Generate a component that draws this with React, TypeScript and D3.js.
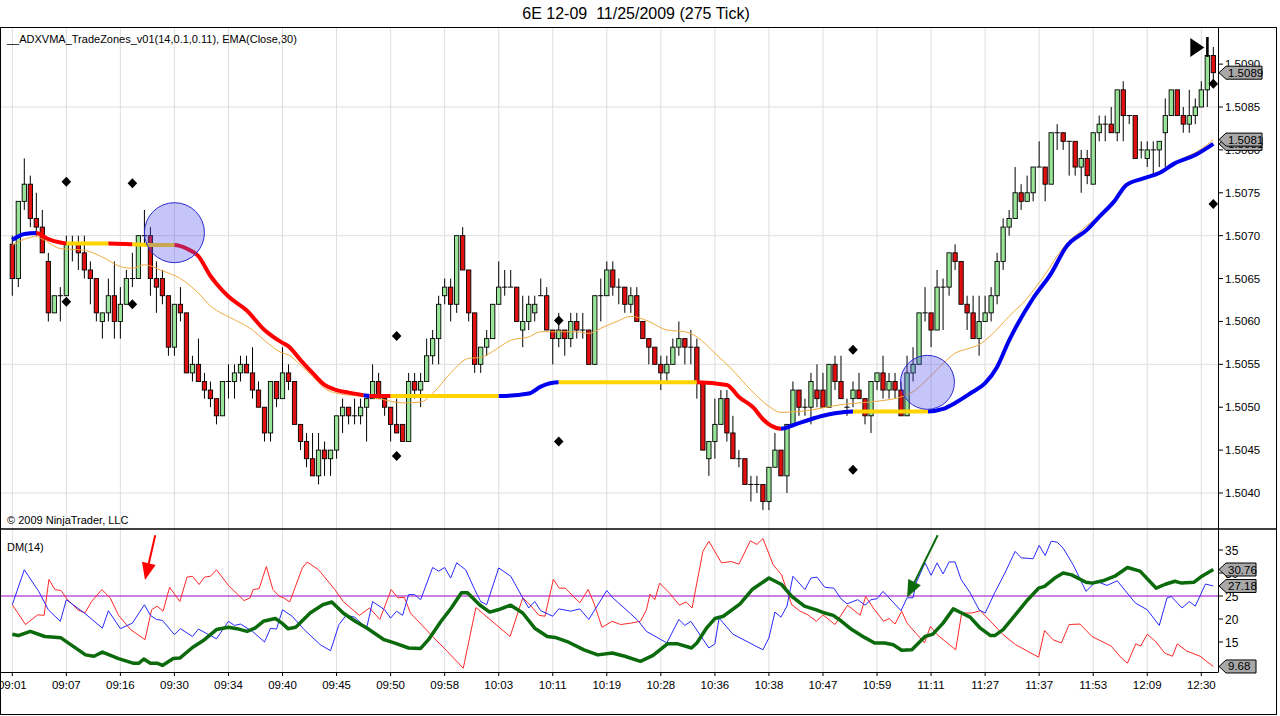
import * as d3 from 'd3';

const TITLE = '6E 12-09  11/25/2009 (275 Tick)';
const INDICATOR_TEXT = '__ADXVMA_TradeZones_v01(14,0.1,0.11), EMA(Close,30)';
const COPYRIGHT = '\u00a9 2009 NinjaTrader, LLC';
const DM_TITLE = 'DM(14)';

// time labels sit on every 9th bar
const TIME_LABELS = ['09:01', '09:07', '09:16', '09:30', '09:34', '09:40', '09:45', '09:50', '09:58', '10:03', '10:11', '10:19',
  '10:28', '10:36', '10:38', '10:47', '10:59', '11:11', '11:27', '11:37', '11:53', '12:09', '12:30'];
const LABEL_STEP = 9;

const PRICE_TICKS = [1.5040, 1.5045, 1.5050, 1.5055, 1.5060, 1.5065, 1.5070, 1.5075, 1.5080, 1.5085, 1.5090];
const PRICE_GRID = [1.5040, 1.5055, 1.5070, 1.5085];
const DM_TICKS = [15, 20, 25, 30, 35];
const DM_LEVEL = 25;

const OPEN = [
  1.5069, 1.5065, 1.5074, 1.5076, 1.5072, 1.5071, 1.5067, 1.5061, 1.5063, 1.5063,
  1.5069, 1.5069, 1.5068, 1.5066, 1.5065, 1.5060, 1.5061, 1.5063, 1.5060, 1.5062,
  1.5065, 1.5065, 1.5070, 1.5070, 1.5065, 1.5065, 1.5063, 1.5057, 1.5062, 1.5061,
  1.5054, 1.5055, 1.5053, 1.5052, 1.5051, 1.5049, 1.5053, 1.5053, 1.5054, 1.5055,
  1.5054, 1.5052, 1.5050, 1.5047, 1.5053, 1.5051, 1.5054, 1.5053, 1.5048, 1.5046,
  1.5044, 1.5042, 1.5045, 1.5044, 1.5045, 1.5049, 1.5050, 1.5049, 1.5049, 1.5050,
  1.5051, 1.5053, 1.5051, 1.5050, 1.5048, 1.5048, 1.5046, 1.5053, 1.5052, 1.5053,
  1.5056, 1.5058, 1.5063, 1.5064, 1.5062, 1.5070, 1.5066, 1.5061, 1.5055, 1.5057,
  1.5058, 1.5062, 1.5064, 1.5064, 1.5064, 1.5059, 1.5060, 1.5061, 1.5063, 1.5063,
  1.5059, 1.5058, 1.5059, 1.5058, 1.5060, 1.5059, 1.5059, 1.5055, 1.5063, 1.5063,
  1.5066, 1.5064, 1.5064, 1.5062, 1.5063, 1.5060, 1.5058, 1.5057, 1.5055, 1.5054,
  1.5055, 1.5057, 1.5058, 1.5057, 1.5057, 1.5053, 1.5044, 1.5046, 1.5048, 1.5051,
  1.5047, 1.5044, 1.5044, 1.5041, 1.5041, 1.5041, 1.5039, 1.5043, 1.5045, 1.5042,
  1.5048, 1.5052, 1.5050, 1.5050, 1.5052, 1.5052, 1.5050, 1.5055, 1.5053, 1.5050,
  1.5051, 1.5052, 1.5051, 1.5049, 1.5053, 1.5054, 1.5052, 1.5053, 1.5052, 1.5049,
  1.5054, 1.5055, 1.5061, 1.5061, 1.5059, 1.5064, 1.5064, 1.5068, 1.5067, 1.5062,
  1.5061, 1.5058, 1.5060, 1.5061, 1.5063, 1.5067, 1.5071, 1.5072, 1.5075, 1.5074,
  1.5075, 1.5078, 1.5078, 1.5076, 1.5082, 1.5082, 1.5081, 1.5081, 1.5078, 1.5079,
  1.5076, 1.5082, 1.5083, 1.5083, 1.5082, 1.5087, 1.5084, 1.5084, 1.5080, 1.5079,
  1.5080, 1.5080, 1.5082, 1.5084, 1.5087, 1.5084, 1.5083, 1.5084, 1.5085, 1.5087,
  1.5091,
];
const HIGH = [
  1.5070, 1.5074, 1.5079, 1.5077, 1.5075, 1.5073, 1.5068, 1.5063, 1.5064, 1.5070,
  1.5070, 1.5070, 1.5070, 1.5067, 1.5065, 1.5061, 1.5065, 1.5067, 1.5064, 1.5066,
  1.5068, 1.5070, 1.5073, 1.5071, 1.5067, 1.5066, 1.5063, 1.5062, 1.5064, 1.5061,
  1.5056, 1.5058, 1.5054, 1.5053, 1.5051, 1.5053, 1.5055, 1.5055, 1.5056, 1.5056,
  1.5057, 1.5053, 1.5050, 1.5053, 1.5053, 1.5057, 1.5055, 1.5053, 1.5048, 1.5047,
  1.5047, 1.5047, 1.5046, 1.5045, 1.5049, 1.5051, 1.5050, 1.5051, 1.5051, 1.5051,
  1.5055, 1.5054, 1.5051, 1.5050, 1.5051, 1.5048, 1.5054, 1.5054, 1.5054, 1.5058,
  1.5059, 1.5063, 1.5065, 1.5065, 1.5070, 1.5071, 1.5066, 1.5061, 1.5057, 1.5059,
  1.5062, 1.5067, 1.5066, 1.5066, 1.5064, 1.5063, 1.5063, 1.5063, 1.5065, 1.5064,
  1.5059, 1.5061, 1.5059, 1.5061, 1.5061, 1.5061, 1.5059, 1.5063, 1.5065, 1.5067,
  1.5067, 1.5065, 1.5064, 1.5064, 1.5064, 1.5060, 1.5058, 1.5057, 1.5056, 1.5056,
  1.5058, 1.5060, 1.5058, 1.5059, 1.5058, 1.5053, 1.5046, 1.5051, 1.5052, 1.5052,
  1.5049, 1.5045, 1.5044, 1.5042, 1.5042, 1.5041, 1.5043, 1.5047, 1.5045, 1.5048,
  1.5053, 1.5052, 1.5051, 1.5054, 1.5055, 1.5054, 1.5055, 1.5056, 1.5056, 1.5051,
  1.5053, 1.5054, 1.5051, 1.5053, 1.5054, 1.5056, 1.5054, 1.5054, 1.5053, 1.5056,
  1.5057, 1.5061, 1.5064, 1.5061, 1.5066, 1.5065, 1.5068, 1.5069, 1.5067, 1.5063,
  1.5063, 1.5063, 1.5063, 1.5064, 1.5068, 1.5072, 1.5073, 1.5078, 1.5076, 1.5077,
  1.5078, 1.5081, 1.5078, 1.5082, 1.5083, 1.5082, 1.5081, 1.5081, 1.5080, 1.5080,
  1.5082, 1.5084, 1.5084, 1.5085, 1.5087, 1.5088, 1.5084, 1.5084, 1.5081, 1.5081,
  1.5081, 1.5081, 1.5086, 1.5087, 1.5087, 1.5085, 1.5087, 1.5086, 1.5088, 1.5091,
  1.5092,
];
const LOW = [
  1.5063, 1.5064, 1.5073, 1.5071, 1.5070, 1.5068, 1.5060, 1.5061, 1.5060, 1.5063,
  1.5067, 1.5066, 1.5065, 1.5062, 1.5060, 1.5058, 1.5060, 1.5058, 1.5058, 1.5062,
  1.5064, 1.5065, 1.5069, 1.5063, 1.5061, 1.5062, 1.5056, 1.5056, 1.5060, 1.5054,
  1.5053, 1.5053, 1.5051, 1.5050, 1.5048, 1.5049, 1.5051, 1.5051, 1.5053, 1.5054,
  1.5051, 1.5050, 1.5046, 1.5046, 1.5050, 1.5051, 1.5052, 1.5048, 1.5045, 1.5043,
  1.5042, 1.5041, 1.5042, 1.5042, 1.5044, 1.5047, 1.5048, 1.5048, 1.5048, 1.5046,
  1.5051, 1.5051, 1.5049, 1.5046, 1.5047, 1.5046, 1.5046, 1.5051, 1.5050, 1.5053,
  1.5055, 1.5055, 1.5062, 1.5060, 1.5061, 1.5066, 1.5060, 1.5054, 1.5054, 1.5056,
  1.5058, 1.5062, 1.5063, 1.5064, 1.5060, 1.5057, 1.5059, 1.5060, 1.5063, 1.5059,
  1.5055, 1.5057, 1.5056, 1.5057, 1.5058, 1.5058, 1.5055, 1.5055, 1.5060, 1.5063,
  1.5063, 1.5062, 1.5061, 1.5061, 1.5060, 1.5058, 1.5055, 1.5055, 1.5052, 1.5053,
  1.5055, 1.5056, 1.5055, 1.5055, 1.5051, 1.5045, 1.5042, 1.5044, 1.5048, 1.5046,
  1.5044, 1.5043, 1.5041, 1.5039, 1.5040, 1.5038, 1.5038, 1.5043, 1.5042, 1.5040,
  1.5048, 1.5049, 1.5049, 1.5048, 1.5050, 1.5050, 1.5050, 1.5052, 1.5051, 1.5049,
  1.5050, 1.5051, 1.5048, 1.5047, 1.5052, 1.5051, 1.5051, 1.5051, 1.5049, 1.5049,
  1.5053, 1.5055, 1.5060, 1.5057, 1.5059, 1.5059, 1.5063, 1.5066, 1.5062, 1.5059,
  1.5058, 1.5056, 1.5060, 1.5060, 1.5062, 1.5066, 1.5070, 1.5072, 1.5073, 1.5074,
  1.5074, 1.5078, 1.5074, 1.5076, 1.5080, 1.5080, 1.5077, 1.5077, 1.5075, 1.5076,
  1.5076, 1.5081, 1.5081, 1.5082, 1.5081, 1.5081, 1.5083, 1.5079, 1.5079, 1.5078,
  1.5077, 1.5078, 1.5078, 1.5084, 1.5084, 1.5082, 1.5082, 1.5083, 1.5085, 1.5085,
  1.5088,
];
const CLOSE = [
  1.5065, 1.5074, 1.5076, 1.5072, 1.5071, 1.5068, 1.5061, 1.5063, 1.5063, 1.5069,
  1.5069, 1.5068, 1.5066, 1.5065, 1.5061, 1.5061, 1.5063, 1.5060, 1.5062, 1.5065,
  1.5065, 1.5070, 1.5070, 1.5065, 1.5064, 1.5063, 1.5057, 1.5062, 1.5061, 1.5054,
  1.5055, 1.5053, 1.5052, 1.5051, 1.5049, 1.5053, 1.5053, 1.5054, 1.5055, 1.5054,
  1.5052, 1.5050, 1.5047, 1.5053, 1.5051, 1.5054, 1.5053, 1.5048, 1.5046, 1.5044,
  1.5042, 1.5045, 1.5044, 1.5045, 1.5049, 1.5050, 1.5049, 1.5049, 1.5050, 1.5051,
  1.5053, 1.5051, 1.5050, 1.5048, 1.5047, 1.5046, 1.5053, 1.5052, 1.5053, 1.5056,
  1.5058, 1.5062, 1.5064, 1.5062, 1.5070, 1.5066, 1.5061, 1.5055, 1.5057, 1.5058,
  1.5062, 1.5064, 1.5064, 1.5064, 1.5060, 1.5060, 1.5062, 1.5062, 1.5063, 1.5059,
  1.5058, 1.5059, 1.5058, 1.5060, 1.5059, 1.5059, 1.5055, 1.5063, 1.5063, 1.5066,
  1.5064, 1.5064, 1.5062, 1.5063, 1.5060, 1.5058, 1.5057, 1.5055, 1.5054, 1.5055,
  1.5057, 1.5058, 1.5057, 1.5057, 1.5053, 1.5045, 1.5046, 1.5048, 1.5051, 1.5047,
  1.5044, 1.5044, 1.5041, 1.5041, 1.5041, 1.5039, 1.5043, 1.5045, 1.5042, 1.5048,
  1.5052, 1.5050, 1.5050, 1.5053, 1.5051, 1.5050, 1.5055, 1.5053, 1.5051, 1.5050,
  1.5052, 1.5051, 1.5049, 1.5053, 1.5054, 1.5052, 1.5053, 1.5052, 1.5049, 1.5054,
  1.5055, 1.5061, 1.5061, 1.5059, 1.5064, 1.5064, 1.5068, 1.5067, 1.5062, 1.5061,
  1.5058, 1.5060, 1.5061, 1.5063, 1.5067, 1.5071, 1.5072, 1.5075, 1.5074, 1.5075,
  1.5078, 1.5078, 1.5076, 1.5082, 1.5082, 1.5081, 1.5081, 1.5078, 1.5079, 1.5077,
  1.5082, 1.5083, 1.5083, 1.5082, 1.5087, 1.5084, 1.5084, 1.5079, 1.5080, 1.5080,
  1.5080, 1.5081, 1.5084, 1.5087, 1.5084, 1.5083, 1.5084, 1.5085, 1.5087, 1.5091,
  1.5089,
];

// ADXVMA readings [bar, price] and its trend zones [from, to, state]
const ADXVMA: [number, number][] = [
  [0, 1.50695], [2, 1.50702], [4, 1.50703], [6, 1.50696], [8, 1.50692], [9, 1.50691], [12, 1.50691], [16, 1.50691],
  [20, 1.50690], [23, 1.50689], [27, 1.50689], [29, 1.50685], [31, 1.50676], [33, 1.50653], [34, 1.50644], [36, 1.50629],
  [39, 1.50613], [42, 1.50590], [45, 1.50575], [46, 1.50571], [48, 1.50555], [50, 1.50540], [52, 1.50526], [54, 1.50520],
  [56, 1.50517], [58.5, 1.50514], [59.5, 1.50513], [63, 1.50513], [81, 1.50513], [86, 1.50516], [88, 1.50524], [91, 1.50529],
  [114, 1.50529], [119, 1.50526], [121, 1.50512], [123.5, 1.50499], [125, 1.50486], [128, 1.50475], [130, 1.50479],
  [133, 1.50486], [135, 1.50490], [137, 1.50493], [140, 1.50495], [152.5, 1.50495], [155, 1.50498], [157, 1.50505],
  [159.5, 1.50516], [162, 1.50528], [164, 1.50547], [166, 1.50578], [170, 1.50627], [173, 1.50656], [175.5, 1.50687],
  [179, 1.50707], [181, 1.50722], [183.5, 1.50740], [185.5, 1.50759], [188.5, 1.50767], [191, 1.50773], [193.5, 1.50784],
  [197, 1.50794], [200, 1.50807],
];
const ADXVMA_ZONES: [number, number, string][] = [
  [0, 4, 'up'], [4, 9, 'down'], [9, 16, 'flat'], [16, 20, 'down'], [20, 27, 'flat'], [27, 58.5, 'down'],
  [58.5, 59.5, 'up'], [59.5, 63, 'down'], [63, 81, 'flat'], [81, 91, 'up'], [91, 114, 'flat'], [114, 128, 'down'],
  [128, 140, 'up'], [140, 152.5, 'flat'], [152.5, 200, 'up'],
];

const EMA30: [number, number][] = [
  [0, 1.50689], [3, 1.50698], [4, 1.50699], [5, 1.50696], [8, 1.50685], [12, 1.50683], [15, 1.50675], [18, 1.50664],
  [20, 1.50662], [22, 1.50666], [25, 1.50659], [28, 1.50650], [31, 1.50633], [33, 1.50618], [34, 1.50613], [37, 1.50602],
  [40, 1.50590], [42, 1.50578], [45, 1.50563], [46, 1.50561], [48, 1.50549], [50, 1.50536], [52, 1.50522], [55, 1.50515],
  [58, 1.50513], [61, 1.50510], [65, 1.50505], [68, 1.50506], [70, 1.50516], [73, 1.50540], [76, 1.50557], [78, 1.50558],
  [80, 1.50565], [83, 1.50578], [86, 1.50582], [88, 1.50588], [91, 1.50588], [94, 1.50588], [96, 1.50586], [98, 1.50592],
  [101, 1.50601], [103, 1.50606], [106, 1.50600], [109, 1.50590], [112, 1.50588], [114, 1.50582], [117, 1.50563],
  [120, 1.50543], [123, 1.50520], [126, 1.50501], [128, 1.50494], [131, 1.50495], [134, 1.50498], [138, 1.50503],
  [141, 1.50505], [144, 1.50507], [148, 1.50512], [150, 1.50518], [152, 1.50530], [155, 1.50551], [157, 1.50563],
  [159, 1.50568], [161, 1.50573], [163, 1.50584], [166, 1.50606], [169, 1.50627], [172, 1.50655], [175, 1.50686],
  [178, 1.50706], [181, 1.50724], [184, 1.50746], [186, 1.50760], [189, 1.50769], [192, 1.50778], [195, 1.50790],
  [198, 1.50801], [200, 1.50812],
];

const DIAMONDS: [number, number][] = [
  [9, 1.50763], [9, 1.50623], [20, 1.50761], [20, 1.50620], [64, 1.50583], [64, 1.50443],
  [91, 1.50601], [91, 1.50460], [140, 1.50567], [140, 1.50427], [200, 1.50877], [200, 1.50737],
];
const ZONE_CIRCLES: [number, number][] = [[27, 1.507035], [152.4, 1.50529]];

// DM(14): [bar, value]
const DI_PLUS: [number, number][] = [
  [0, 23.1], [2, 30.7], [4.4, 26], [6, 22], [8, 19.5], [9, 24.2], [12, 21.3], [15, 18], [16, 21.8], [18, 17.9], [20, 19.1],
  [22, 23.1], [23, 20.8], [24, 19.9], [25, 19.7], [27, 16.6], [28, 17.9], [30, 16.2], [31, 17.8], [34, 15.7], [36, 19.5],
  [37, 18.6], [38, 18.9], [40, 17.3], [42, 15], [43, 18], [44, 17.8], [45, 22], [46.6, 20.6], [48.6, 17.7], [51.3, 14.4],
  [53, 13.1], [54.4, 18.8], [55.6, 20.8], [57, 20.4], [59, 18], [60, 23.8], [62, 22], [63, 20.2], [64, 21.7], [65, 20.8],
  [66, 25.3], [67, 25.3], [68, 24.2], [70, 31.2], [71, 30.4], [72, 31.2], [73, 28.9], [74, 32.2], [75.5, 30.7], [77, 26.4],
  [78, 23.8], [79, 23.1], [81, 31.1], [83, 29.3], [85, 24.6], [86, 22.4], [87, 23.8], [88, 21.8], [90, 20.6], [91, 22.2],
  [93, 21.7], [94.5, 22.2], [96, 19.9], [99, 26.2], [100, 24.6], [103, 21.1], [104.3, 19.5], [105.6, 17.3], [109, 14.8],
  [111, 19.9], [112, 18.6], [113, 19.5], [116, 13.7], [117, 14.6], [117.7, 20.2], [120, 16.7], [125, 13.3], [126, 15.9],
  [127, 21.5], [128, 20.4], [129, 22.8], [130, 29.3], [132, 26.4], [133, 28.9], [134, 29.1], [135.3, 26.9], [136.8, 26.7],
  [138, 24.4], [139, 23.3], [140.8, 24.2], [142, 23], [143, 24.2], [144, 24.4], [145, 26], [148, 21.8], [149, 24.6],
  [150, 24.6], [150.5, 27.8], [152, 32.2], [153, 29.5], [154, 32.2], [155, 29.8], [156, 32.4], [157, 32.4], [158, 28.6],
  [159.5, 25.7], [161, 22], [162, 21.3], [163.6, 25.7], [165.3, 30], [167, 34.7], [168, 33.3], [170, 33.1], [171, 36],
  [172, 33.8], [173, 36.9], [174, 36.7], [175, 35.4], [176.7, 31.7], [178.8, 26], [180.5, 28.2], [182.3, 27.3], [184, 28.3],
  [187, 23.5], [189, 22], [191, 18.6], [192.3, 24.6], [193, 24.9], [194.8, 22.4], [196, 23.8], [197, 22.8], [198.7, 27.6],
  [200, 27.18],
];
const DI_MINUS: [number, number][] = [
  [0, 23.1], [2.2, 18.8], [4.2, 20.9], [5.3, 20.8], [6.1, 28.6], [7.1, 26.4], [8.1, 26.2], [9.2, 24.2], [10.9, 22], [12.1, 21.3],
  [13.2, 23.8], [14.9, 26.4], [16.3, 24.6], [17.7, 20.8], [19.7, 17.7], [22.1, 15.5], [23.2, 22], [24.1, 22.8], [25.1, 21.7],
  [26.2, 26.9], [27.9, 23.8], [29.1, 29.1], [30, 29.3], [31.1, 27.5], [32, 29.1], [33, 29.3], [34, 30.7], [36, 27.3],
  [38.6, 24], [39.6, 24.6], [40.1, 26.4], [41.1, 26.6], [42.3, 31.4], [43.4, 26.4], [44.5, 24.9], [45.2, 24.6], [46.2, 23.7],
  [48.3, 31.1], [49.1, 32.4], [51, 30.7], [53.7, 26.4], [55.1, 23.8], [57.8, 20.8], [59.5, 22.4], [61.2, 19.9], [63.1, 26.4],
  [64.2, 24.6], [65.3, 24.7], [66.3, 21.3], [70, 16.2], [72.4, 13], [75.1, 9.3], [77.2, 22.5], [78.9, 20.6], [82.9, 16.2],
  [85, 24.6], [86.2, 23.1], [87.7, 20.8], [88.7, 20.6], [90.1, 28.6], [91.1, 26.7], [92.1, 26.7], [94.5, 23.5], [95.9, 26.4],
  [96.9, 23.3], [98.2, 18.2], [99.9, 19.5], [101.3, 18.8], [103, 19.1], [104.6, 19.5], [105.6, 22], [106.2, 25.4], [107, 24.2],
  [107.8, 27.8], [109.4, 25.7], [111.1, 23], [112.2, 23.7], [113.2, 22.4], [115, 34.7], [116, 36.9], [118.1, 32.2],
  [119.8, 32.5], [121, 31.9], [122.9, 37], [124, 36.2], [125, 37.5], [126.7, 31.8], [128.1, 29.6], [129.8, 23.1],
  [131.2, 21.7], [132.5, 20.9], [133.9, 19.5], [135, 20.9], [137, 18.8], [139.1, 23], [141.2, 20.8], [142.1, 24.9],
  [143.6, 22], [145.1, 19.5], [146, 20.1], [147, 18.9], [148.1, 21.7], [149, 19.1], [151.9, 14.8], [152.9, 18.4], [154, 16.6],
  [157.1, 13.3], [158.1, 21.3], [159.8, 21.3], [161.2, 21.8], [162.9, 19.5], [165, 16.6], [167.1, 14.4], [170.9, 11.7],
  [171.9, 17.5], [173.3, 15.5], [174.7, 14.8], [176, 18.8], [177.8, 18.9], [179.8, 16.2], [183, 14.1], [184.7, 11.5],
  [185.7, 10.4], [187.1, 14.6], [187.9, 14.1], [189, 16.7], [190.4, 15.1], [191.9, 12.6], [193.2, 11.9], [194, 14.6],
  [195.5, 13.1], [197.8, 11.9], [200, 9.68],
];
const ADX: [number, number][] = [
  [0, 16.7], [1, 16.4], [3, 17.3], [5.4, 16.2], [8.1, 15.9], [12.2, 12.2], [13.6, 11.9], [15, 12.8], [17.7, 11.4], [20.1, 10.4],
  [21.1, 10.4], [21.9, 11.3], [23, 10.4], [24.1, 10.4], [25, 9.9], [26.8, 11.4], [27.9, 11.5], [30, 13.8], [32, 15.5],
  [34, 17.7], [36, 18.2], [37.4, 17.9], [39.1, 17.3], [40.4, 18], [41.8, 19.5], [43.8, 20.1], [44.9, 19.1], [45.9, 17.9],
  [47.2, 18.2], [49.6, 21.3], [51.7, 23.1], [53.2, 23.7], [55.1, 21.3], [57.1, 19.5], [59.1, 18], [61.9, 15.5], [63.6, 14.8],
  [66, 13.7], [68, 13.6], [69.3, 15.5], [71.4, 19.5], [73.1, 22.4], [74.8, 25.7], [75.8, 25.7], [77.8, 23.1], [79.5, 21.5],
  [80.9, 22], [83, 23], [85, 21.3], [87, 18], [89.1, 16.2], [90.4, 16], [92.4, 15.1], [95.2, 13.3], [97.5, 12.2], [99.9, 12.6],
  [102, 11.9], [104.6, 10.8], [106.7, 12.1], [109.1, 14.6], [110.8, 14.6], [113.1, 13.7], [114, 14.8], [115.6, 18], [117, 20.1],
  [118.4, 20.6], [121.2, 23.3], [123.2, 26.4], [126, 28.9], [128.1, 27.5], [129.8, 24.9], [131.9, 22.8], [133.9, 22],
  [135.3, 21.3], [136.7, 20.8], [138.1, 19.5], [139.8, 17.7], [141.9, 16], [143.6, 14.8], [145.3, 14.8], [146.7, 14.4],
  [148.1, 13.2], [149.8, 13.3], [152, 16.2], [153.3, 16.7], [155, 19.1], [156.7, 22.2], [158.1, 21.3], [159.5, 20.4],
  [161.2, 18], [162.9, 16.4], [163.6, 16.4], [165, 17.7], [167.1, 21], [169.1, 24.2], [170.9, 26.7], [171.9, 27.1],
  [173.6, 28.9], [175, 30], [176.4, 29.6], [178.8, 28], [179.8, 27.8], [181.6, 28.3], [183.6, 29.3], [185.7, 31.2],
  [187.8, 30.4], [190.5, 26.7], [191.9, 27.5], [193.6, 28.2], [194.7, 27.8], [196.8, 28], [198.1, 29.3], [200, 30.76],
];

// annotation arrows in the DM panel: tip [bar, value], tail [bar, value]
const ARROWS = [
  { tip: [22.1, 28.5], tail: [23.8, 38.2], color: '#ff0000' },
  { tip: [149, 24.7], tail: [154.1, 38.2], color: '#0b6a0b' },
];

const FONT = '"Liberation Sans", Arial, sans-serif';
const ZONE_COLOR: Record<string, string> = { up: '#0000f0', down: '#ff0000', flat: '#ffd400' };

const W = 1280, H = 716;
const PLOT_L = 1, AXIS_X = 1218, TOP = 27, SPLIT = 529, BOTTOM = 672, FRAME_R = 1276, FRAME_B = 715;

function Tag({ y, text, width }: { y: number; text: string; width: number }) {
  const x0 = AXIS_X + 1, h = 6.5;
  return (
    <g>
      <path d={`M${x0},${y} L${x0 + 7},${y - h} L${x0 + width},${y - h} L${x0 + width},${y + h} L${x0 + 7},${y + h} Z`}
        fill="#a8a8a8" stroke="#000" strokeWidth={1} />
      <text x={x0 + 9} y={y + 4} fontSize={11.5} fill="#000">{text}</text>
    </g>
  );
}

export default function App() {
  const last = CLOSE.length - 1;
  const x = d3.scaleLinear().domain([0, last]).range([12.3, 1213.3]);
  const y = d3.scaleLinear().domain([1.5040, 1.5085]).range([493, 107]);
  const yd = d3.scaleLinear().domain([15, 35]).range([642, 550]);

  const smooth = d3.line<[number, number]>().x(d => x(d[0])).y(d => y(d[1])).curve(d3.curveMonotoneX);
  const dmLine = d3.line<[number, number]>().x(d => x(d[0])).y(d => yd(d[1]));

  const gridBars = TIME_LABELS.map((_, i) => i * LABEL_STEP);
  const bodyW = 4.3;

  return (
    <svg width={W} height={H} style={{ position: 'absolute', left: 0, top: 0, background: '#fff' }} fontFamily={FONT}>
      <defs>
        <clipPath id="topPanel"><rect x={PLOT_L} y={TOP} width={AXIS_X - PLOT_L} height={SPLIT - TOP} /></clipPath>
        <clipPath id="dmPanel"><rect x={PLOT_L} y={SPLIT} width={AXIS_X - PLOT_L} height={BOTTOM - SPLIT} /></clipPath>
        {ADXVMA_ZONES.map(([a, b], i) => (
          <clipPath key={i} id={`zone${i}`}>
            <rect x={i === 0 ? 0 : x(a)} y={TOP} width={(i === ADXVMA_ZONES.length - 1 ? AXIS_X : x(b)) - (i === 0 ? 0 : x(a))} height={SPLIT - TOP} />
          </clipPath>
        ))}
      </defs>

      <text x={636} y={18.5} textAnchor="middle" fontSize={16} fill="#000" style={{ whiteSpace: 'pre' }}>{TITLE}</text>

      {/* grid */}
      {gridBars.map(b => (
        <g key={b}>
          <line x1={x(b)} x2={x(b)} y1={TOP} y2={SPLIT} stroke="#dedede" />
          <line x1={x(b)} x2={x(b)} y1={SPLIT} y2={BOTTOM} stroke="#dedede" />
        </g>
      ))}
      {PRICE_GRID.map(p => (
        <line key={p} x1={PLOT_L} x2={AXIS_X} y1={y(p)} y2={y(p)} stroke="#dedede" />
      ))}

      {/* candles */}
      <g clipPath="url(#topPanel)">
        {CLOSE.map((c, i) => {
          const o = OPEN[i], cx = x(i);
          const doji = Math.abs(o - c) < 1e-7;
          const up = c > o;
          return (
            <g key={i}>
              <line x1={cx} x2={cx} y1={y(HIGH[i])} y2={y(LOW[i])} stroke="#000" strokeWidth={1} />
              {doji
                ? <line x1={cx - bodyW / 2 - 0.5} x2={cx + bodyW / 2 + 0.5} y1={y(c)} y2={y(c)} stroke="#000" strokeWidth={1} />
                : <rect x={cx - bodyW / 2} y={y(Math.max(o, c))} width={bodyW} height={Math.abs(y(o) - y(c))}
                    fill={up ? '#98e498' : '#e01010'} stroke="#000" strokeWidth={0.9} />}
            </g>
          );
        })}

        <path d={smooth(EMA30) ?? ''} fill="none" stroke="#f2aa40" strokeWidth={1} />
        {ADXVMA_ZONES.map(([, , state], i) => (
          <path key={i} d={smooth(ADXVMA) ?? ''} fill="none" stroke={ZONE_COLOR[state]} strokeWidth={4}
            clipPath={`url(#zone${i})`} strokeLinejoin="round" />
        ))}

        {DIAMONDS.map(([b, p], i) => {
          const cx = x(b), cy = y(p);
          return <path key={i} d={`M${cx},${cy - 5} L${cx + 4.8},${cy} L${cx},${cy + 5} L${cx - 4.8},${cy} Z`} fill="#000" />;
        })}
        {ZONE_CIRCLES.map(([b, p], i) => (
          <circle key={i} cx={x(b)} cy={y(p)} r={i === 0 ? 30 : 27} fill="rgba(80,80,240,0.33)" stroke="#2a2ad0" strokeWidth={1} />
        ))}

        {/* current bar marker */}
        <path d={`M${x(last - 1) - 17},${38} L${x(last - 1) - 3},${47.5} L${x(last - 1) - 17},${57} Z`} fill="#000" />
        <rect x={x(last - 1) - 1.2} y={37} width={2.6} height={20} fill="#000" />
      </g>

      <text x={7} y={43} fontSize={11} fill="#000">{INDICATOR_TEXT}</text>
      <text x={7} y={524} fontSize={11} fill="#000">{COPYRIGHT}</text>

      {/* price axis */}
      {PRICE_TICKS.map(p => (
        <g key={p}>
          <line x1={AXIS_X} x2={AXIS_X + 5} y1={y(p)} y2={y(p)} stroke="#000" />
          <text x={AXIS_X + 7} y={y(p) + 4} fontSize={11.5} fill="#000">{p.toFixed(4)}</text>
        </g>
      ))}
      <Tag y={y(CLOSE[last])} text={CLOSE[last].toFixed(4)} width={43} />
      <Tag y={y(ADXVMA[ADXVMA.length - 1][1])} text={ADXVMA[ADXVMA.length - 1][1].toFixed(4)} width={43} />
      <Tag y={y(EMA30[EMA30.length - 1][1])} text={EMA30[EMA30.length - 1][1].toFixed(4)} width={43} />

      {/* DM panel */}
      <g clipPath="url(#dmPanel)">
        <line x1={PLOT_L} x2={AXIS_X} y1={yd(DM_LEVEL)} y2={yd(DM_LEVEL)} stroke="#9a00c8" strokeWidth={1} />
        <path d={dmLine(DI_MINUS) ?? ''} fill="none" stroke="#ff2828" strokeWidth={1} />
        <path d={dmLine(DI_PLUS) ?? ''} fill="none" stroke="#2828ff" strokeWidth={1} />
        <path d={dmLine(ADX) ?? ''} fill="none" stroke="#0b6a0b" strokeWidth={3.5} strokeLinejoin="round" />
        {ARROWS.map((a, i) => {
          const tx = x(a.tip[0]), ty = yd(a.tip[1]);
          const sx = x(a.tail[0]), sy = yd(a.tail[1]);
          const len = Math.hypot(sx - tx, sy - ty);
          const ux = (sx - tx) / len, uy = (sy - ty) / len;
          const hl = 17, hw = 7;
          const bx = tx + ux * hl, by = ty + uy * hl;
          return (
            <g key={i}>
              <line x1={sx} y1={sy} x2={bx - ux * 2} y2={by - uy * 2} stroke={a.color} strokeWidth={2} />
              <path d={`M${tx},${ty} L${bx - uy * hw},${by + ux * hw} L${bx + uy * hw},${by - ux * hw} Z`} fill={a.color} />
            </g>
          );
        })}
      </g>
      <text x={7} y={551} fontSize={11} fill="#000">{DM_TITLE}</text>

      {DM_TICKS.map(v => (
        <g key={v}>
          <line x1={AXIS_X} x2={AXIS_X + 5} y1={yd(v)} y2={yd(v)} stroke="#000" />
          <text x={AXIS_X + 7} y={yd(v) + 4.5} fontSize={12} fill="#000">{v}</text>
        </g>
      ))}
      <Tag y={yd(ADX[ADX.length - 1][1])} text={ADX[ADX.length - 1][1].toFixed(2)} width={37} />
      <Tag y={yd(DI_PLUS[DI_PLUS.length - 1][1])} text={DI_PLUS[DI_PLUS.length - 1][1].toFixed(2)} width={37} />
      <Tag y={yd(DI_MINUS[DI_MINUS.length - 1][1])} text={DI_MINUS[DI_MINUS.length - 1][1].toFixed(2)} width={37} />

      {/* time axis */}
      {gridBars.map((b, i) => (
        <g key={b}>
          <line x1={x(b)} x2={x(b)} y1={BOTTOM} y2={BOTTOM + 4} stroke="#000" />
          <text x={x(b)} y={689} textAnchor="middle" fontSize={11.5} fill="#000">{TIME_LABELS[i]}</text>
        </g>
      ))}

      {/* frame and panel borders */}
      <line x1={0} x2={FRAME_R} y1={TOP + 0.5} y2={TOP + 0.5} stroke="#000" />
      <line x1={0} x2={FRAME_R} y1={SPLIT} y2={SPLIT} stroke="#000" strokeWidth={1.5} />
      <line x1={0} x2={AXIS_X} y1={BOTTOM + 0.5} y2={BOTTOM + 0.5} stroke="#000" />
      <line x1={AXIS_X + 0.5} x2={AXIS_X + 0.5} y1={TOP} y2={BOTTOM + 0.5} stroke="#000" />
      <line x1={0.5} x2={0.5} y1={TOP} y2={FRAME_B} stroke="#000" />
      <line x1={FRAME_R + 0.5} x2={FRAME_R + 0.5} y1={TOP} y2={FRAME_B} stroke="#000" />
      <line x1={0} x2={FRAME_R + 1} y1={FRAME_B - 0.5} y2={FRAME_B - 0.5} stroke="#000" />
    </svg>
  );
}
